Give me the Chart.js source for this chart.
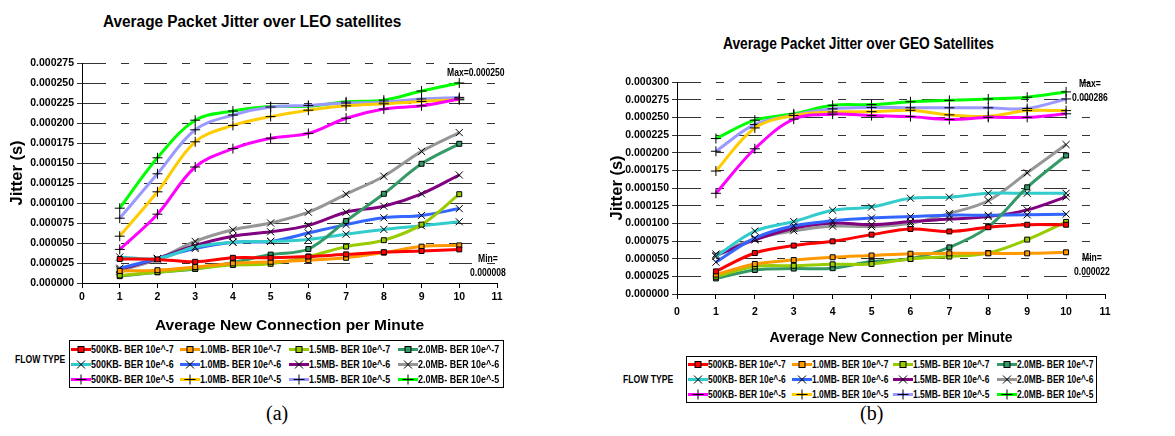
<!DOCTYPE html>
<html>
<head>
<meta charset="utf-8">
<script src="https://cdn.jsdelivr.net/npm/chart.js@4"></script>
<style>
  body { margin: 0; background: #fff; width: 1175px; height: 436px; position: relative; overflow: hidden;
         font-family: "Liberation Sans", Arial, sans-serif; }
  .abs { position: absolute; }
  .title { font-weight: bold; font-size: 16px; white-space: nowrap; transform-origin: left top; }
  .note { font-weight: bold; font-size: 10px; white-space: nowrap; text-align: center; line-height: 14px;
          transform: scaleX(0.86); transform-origin: left top; }
  .legend { border: 1px solid #000; background: #fff; box-sizing: border-box; }
  .legend .item { position: absolute; display: flex; align-items: center; font-size: 10.5px; font-weight: bold; white-space: nowrap; }
  .legend .item span { display: inline-block; transform: scaleX(0.85); transform-origin: left center; }
  #geoLegend .item span { transform: scaleX(0.8); }
  .caption { font-family: "Liberation Serif", "Times New Roman", serif; font-size: 20px; }
</style>
</head>
<body>

<div class="abs title" style="left:103px; top:13px; transform: scaleX(0.96);">Average Packet Jitter over LEO satellites</div>
<div class="abs title" style="left:723px; top:35px; transform: scaleX(0.86);">Average Packet Jitter over GEO Satellites</div>

<canvas id="leoChart" class="abs" style="left:0; top:0;"></canvas>
<canvas id="geoChart" class="abs" style="left:590px; top:0;"></canvas>

<div class="abs note" style="left:447px; top:66px;">Max=0.000250</div>
<div class="abs note" style="left:470px; top:252px;">Min=<br>0.000008</div>
<div class="abs note" style="left:1072px; top:77px;">Max=<br>0.000286</div>
<div class="abs note" style="left:1074px; top:251px;">Min=<br>0.000022</div>

<div class="abs note" style="left:15px; top:353px;">FLOW TYPE</div>
<div class="abs note" style="left:623px; top:373px;">FLOW TYPE</div>
<div id="leoLegend" class="abs legend" style="left:69px; top:340px; width:435px; height:48px;"></div>
<div id="geoLegend" class="abs legend" style="left:686px; top:356px; width:411px; height:47px;"></div>

<div class="abs caption" style="left:266px; top:402px;">(a)</div>
<div class="abs caption" style="left:860px; top:402px;">(b)</div>

<script>
// x values (average new connections per minute)
const xValues = [1, 2, 3, 4, 5, 6, 7, 8, 9, 10];

const seriesNames = [
  '500KB- BER 10e^-7', '1.0MB- BER 10e^-7', '1.5MB- BER 10e^-7', '2.0MB- BER 10e^-7',
  '500KB- BER 10e^-6', '1.0MB- BER 10e^-6', '1.5MB- BER 10e^-6', '2.0MB- BER 10e^-6',
  '500KB- BER 10e^-5', '1.0MB- BER 10e^-5', '1.5MB- BER 10e^-5', '2.0MB- BER 10e^-5'
];
const seriesColors = [
  '#ff0000', '#ff9900', '#99cc00', '#339966',
  '#33cccc', '#3366ff', '#800080', '#969696',
  '#ff00ff', '#ffcc00', '#9999ff', '#00ff00'
];
const seriesMarkers = [
  'rect', 'rect', 'rect', 'rect',
  'crossRot', 'crossRot', 'crossRot', 'crossRot',
  'cross', 'cross', 'cross', 'cross'
];

// LEO jitter (s)
const leo500k7 = [0.0000300, 0.0000295, 0.0000265, 0.0000315, 0.0000315, 0.0000330, 0.0000358, 0.0000385, 0.0000400, 0.0000420];
const leo1m7   = [0.0000150, 0.0000160, 0.0000200, 0.0000245, 0.0000265, 0.0000285, 0.0000315, 0.0000380, 0.0000455, 0.0000470];
const leo15m7  = [0.0000095, 0.0000135, 0.0000180, 0.0000225, 0.0000240, 0.0000330, 0.0000455, 0.0000535, 0.0000730, 0.0001110];
const leo2m7   = [0.0000085, 0.0000135, 0.0000175, 0.0000255, 0.0000355, 0.0000425, 0.0000775, 0.0001115, 0.0001490, 0.0001740];
const leo500k6 = [0.0000325, 0.0000305, 0.0000450, 0.0000510, 0.0000520, 0.0000545, 0.0000610, 0.0000670, 0.0000715, 0.0000765];
const leo1m6   = [0.0000185, 0.0000305, 0.0000430, 0.0000510, 0.0000520, 0.0000625, 0.0000730, 0.0000815, 0.0000845, 0.0000930];
const leo15m6  = [0.0000170, 0.0000305, 0.0000470, 0.0000585, 0.0000640, 0.0000720, 0.0000885, 0.0000960, 0.0001115, 0.0001350];
const leo2m6   = [0.0000150, 0.0000300, 0.0000520, 0.0000665, 0.0000750, 0.0000885, 0.0001110, 0.0001335, 0.0001645, 0.0001880];
const leo500k5 = [0.0000420, 0.0000860, 0.0001450, 0.0001680, 0.0001810, 0.0001870, 0.0002060, 0.0002175, 0.0002215, 0.0002300];
const leo1m5   = [0.0000585, 0.0001140, 0.0001765, 0.0001970, 0.0002080, 0.0002160, 0.0002215, 0.0002240, 0.0002270, 0.0002290];
const leo15m5  = [0.0000810, 0.0001365, 0.0001915, 0.0002100, 0.0002200, 0.0002220, 0.0002250, 0.0002260, 0.0002300, 0.0002320];
const leo2m5   = [0.0000935, 0.0001565, 0.0002035, 0.0002150, 0.0002205, 0.0002210, 0.0002265, 0.0002285, 0.0002400, 0.0002500];

// GEO jitter (s)
const geo500k7 = [0.0000320, 0.0000580, 0.0000685, 0.0000745, 0.0000840, 0.0000920, 0.0000885, 0.0000945, 0.0000980, 0.0000980];
const geo1m7   = [0.0000275, 0.0000425, 0.0000480, 0.0000520, 0.0000545, 0.0000570, 0.0000575, 0.0000575, 0.0000575, 0.0000590];
const geo15m7  = [0.0000245, 0.0000390, 0.0000400, 0.0000420, 0.0000425, 0.0000495, 0.0000530, 0.0000580, 0.0000770, 0.0001020];
const geo2m7   = [0.0000220, 0.0000340, 0.0000360, 0.0000365, 0.0000460, 0.0000500, 0.0000660, 0.0000950, 0.0001510, 0.0001960];
const geo500k6 = [0.0000530, 0.0000890, 0.0001025, 0.0001185, 0.0001230, 0.0001355, 0.0001370, 0.0001425, 0.0001425, 0.0001425];
const geo1m6   = [0.0000450, 0.0000790, 0.0000965, 0.0001035, 0.0001075, 0.0001095, 0.0001115, 0.0001115, 0.0001120, 0.0001130];
const geo15m6  = [0.0000545, 0.0000765, 0.0000930, 0.0001005, 0.0000980, 0.0001025, 0.0001060, 0.0001095, 0.0001190, 0.0001375];
const geo2m6   = [0.0000565, 0.0000780, 0.0000895, 0.0000960, 0.0000955, 0.0001000, 0.0001140, 0.0001320, 0.0001715, 0.0002115];
const geo500k5 = [0.0001425, 0.0002055, 0.0002475, 0.0002545, 0.0002525, 0.0002510, 0.0002470, 0.0002500, 0.0002500, 0.0002550];
const geo1m5   = [0.0001740, 0.0002350, 0.0002525, 0.0002575, 0.0002580, 0.0002600, 0.0002535, 0.0002515, 0.0002595, 0.0002595];
const geo15m5  = [0.0002020, 0.0002400, 0.0002530, 0.0002620, 0.0002640, 0.0002635, 0.0002635, 0.0002635, 0.0002625, 0.0002760];
const geo2m5   = [0.0002200, 0.0002460, 0.0002550, 0.0002670, 0.0002680, 0.0002720, 0.0002740, 0.0002760, 0.0002785, 0.0002860];

const leoSeries = [leo500k7, leo1m7, leo15m7, leo2m7, leo500k6, leo1m6, leo15m6, leo2m6, leo500k5, leo1m5, leo15m5, leo2m5];
const geoSeries = [geo500k7, geo1m7, geo15m7, geo2m7, geo500k6, geo1m6, geo15m6, geo2m6, geo500k5, geo1m5, geo15m5, geo2m5];

const fontFamily = '"Liberation Sans", Arial, sans-serif';

function buildDatasets(seriesList) {
  return seriesList.map(function (values, i) {
    return {
      label: seriesNames[i],
      data: values.map((v, j) => ({ x: xValues[j], y: v })),
      borderColor: seriesColors[i],
      backgroundColor: seriesColors[i],
      borderWidth: 3,
      tension: 0.35,
      pointStyle: seriesMarkers[i],
      pointRadius: seriesMarkers[i] === 'rect' ? 3.5 : 5,
      pointBorderColor: '#000',
      pointBorderWidth: 1,
      pointBackgroundColor: seriesColors[i]
    };
  });
}

function drawChart(canvasId, w, h, seriesList, yMax, pad, yWidth, xHeight, tickPad, titleSize) {
  const canvas = document.getElementById(canvasId);
  canvas.width = w;
  canvas.height = h;
  canvas.style.width = w + 'px';
  canvas.style.height = h + 'px';
  return new Chart(canvas.getContext('2d'), {
    type: 'line',
    data: { datasets: buildDatasets(seriesList) },
    options: {
      responsive: false,
      animation: false,
      layout: { padding: pad },
      plugins: { legend: { display: false }, title: { display: false }, tooltip: { enabled: false } },
      scales: {
        x: {
          type: 'linear',
          min: 0,
          max: 11,
          afterFit: s => { s.height = xHeight; },
          ticks: { stepSize: 1, color: '#000', padding: tickPad, font: { family: fontFamily, size: 10.5, weight: 'bold' } },
          grid: { drawOnChartArea: false, drawTicks: true, tickLength: 5, color: '#000' },
          border: { color: '#000', width: 1 },
          title: { display: true, text: 'Average New Connection per Minute', color: '#000',
                   font: { family: fontFamily, size: titleSize, weight: 'bold' }, padding: { top: 4, bottom: 3 } }
        },
        y: {
          min: 0,
          max: yMax,
          afterFit: s => { s.width = yWidth; },
          ticks: { stepSize: 0.000025, color: '#000', padding: 3,
                   font: { family: fontFamily, size: 10.5, weight: 'bold' },
                   callback: v => Number(v).toFixed(6) },
          grid: { color: '#333', lineWidth: 1, tickLength: 5 },
          border: { color: '#000', width: 1, dash: [23, 15, 8, 15] },
          title: { display: true, text: 'Jitter (s)', color: '#000',
                   font: { family: fontFamily, size: 16.5, weight: 'bold' }, padding: { top: 2, bottom: 4 } }
        }
      }
    }
  });
}

drawChart('leoChart', 590, 338, leoSeries, 0.000275, { top: 63, right: 93, left: 6, bottom: 0 }, 76, 55, 3, 15.5);
drawChart('geoChart', 585, 350, geoSeries, 0.000300, { top: 82, right: 70, left: 16, bottom: 0 }, 71, 56, 7, 14);

// legend built from the same series arrays
function markerSvg(type, color) {
  let mark = '';
  if (type === 'rect') mark = '<rect x="7" y="2.5" width="6" height="6" fill="' + color + '" stroke="#000" stroke-width="1"/>';
  if (type === 'crossRot') mark = '<path d="M6 1.5 L14 9.5 M14 1.5 L6 9.5" stroke="#000" stroke-width="1"/>';
  if (type === 'cross') mark = '<path d="M10 0.5 L10 10.5 M4.5 5.5 L15.5 5.5" stroke="#000" stroke-width="1"/>';
  return '<svg width="20" height="11"><line x1="0" y1="5.5" x2="20" y2="5.5" stroke="' + color + '" stroke-width="3"/>' + mark + '</svg>';
}

function buildLegend(id, colX, rowY) {
  const box = document.getElementById(id);
  seriesNames.forEach(function (name, i) {
    const item = document.createElement('div');
    item.className = 'item';
    item.style.left = colX[i % 4] + 'px';
    item.style.top = rowY[Math.floor(i / 4)] + 'px';
    item.innerHTML = markerSvg(seriesMarkers[i], seriesColors[i]) + '<span>' + name + '</span>';
    box.appendChild(item);
  });
}

buildLegend('leoLegend', [1, 110, 219, 328], [2, 17, 32]);
buildLegend('geoLegend', [1, 105, 206, 310], [1, 16, 31]);
</script>
</body>
</html>
